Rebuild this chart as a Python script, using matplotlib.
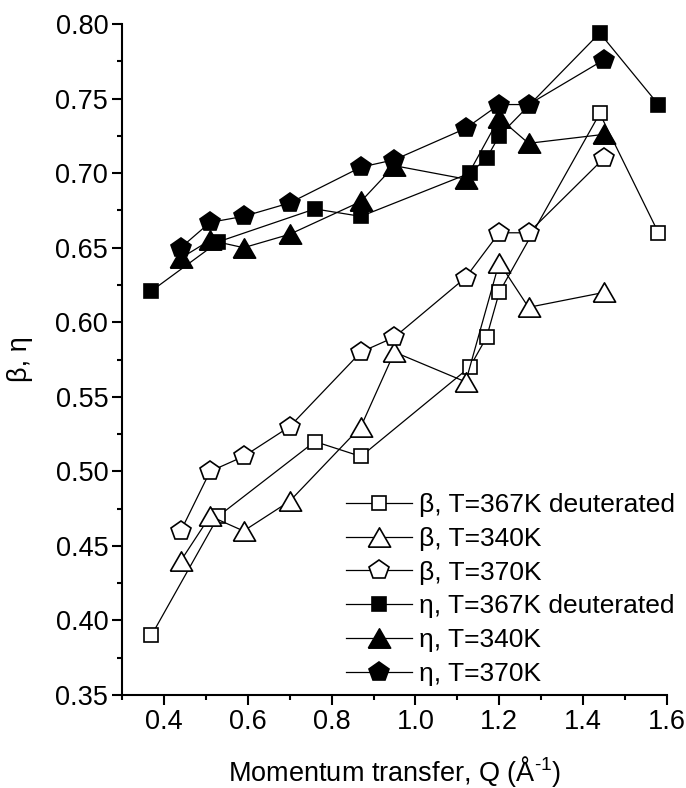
import numpy as np
import matplotlib
matplotlib.use("Agg")
import matplotlib.pyplot as plt
from matplotlib.ticker import MultipleLocator

plt.rcParams['font.family'] = ['Liberation Sans', 'DejaVu Sans']
plt.rcParams['mathtext.fontset'] = 'custom'
plt.rcParams['mathtext.rm'] = 'Liberation Sans'

# Q values
q_deut = [0.37, 0.53, 0.76, 0.87, 1.13, 1.17, 1.20, 1.44, 1.58]
q_h = [0.44, 0.51, 0.59, 0.70, 0.87, 0.95, 1.12, 1.20, 1.27, 1.45]

# beta (stretching exponent)
beta_367d = [0.39, 0.47, 0.52, 0.51, 0.57, 0.59, 0.62, 0.74, 0.66]
beta_340 = [0.44, 0.47, 0.46, 0.48, 0.53, 0.58, 0.56, 0.64, 0.61, 0.62]
beta_370 = [0.46, 0.50, 0.51, 0.53, 0.58, 0.59, 0.63, 0.66, 0.66, 0.71]

# eta
eta_367d = [0.621, 0.654, 0.676, 0.671, 0.700, 0.710, 0.725, 0.794, 0.746]
eta_340 = [0.643, 0.655, 0.650, 0.659, 0.681, 0.705, 0.696, 0.737, 0.720, 0.726]
eta_370 = [0.650, 0.667, 0.671, 0.680, 0.704, 0.709, 0.730, 0.746, 0.746, 0.776]

labels = ['β, T=367K deuterated', 'β, T=340K', 'β, T=370K',
          'η, T=367K deuterated', 'η, T=340K', 'η, T=370K']

# equilateral triangle marker
tri = [(-1, -0.866), (1, -0.866), (0, 0.866), (-1, -0.866)]

fig = plt.figure(figsize=(6.86, 7.88), dpi=100)
ax = fig.add_axes([0.178, 0.118, 0.794, 0.8515])

series = [
    (q_deut, beta_367d, 's', 'white', 10.5),
    (q_h, beta_340, tri, 'white', 16),
    (q_h, beta_370, 'p', 'white', 14.5),
    (q_deut, eta_367d, 's', 'black', 10.5),
    (q_h, eta_340, tri, 'black', 16),
    (q_h, eta_370, 'p', 'black', 14.5),
]
for (x, y, m, fc, ms), lab in zip(series, labels):
    ax.plot(x, y, color='black', lw=0.9, marker=m, markersize=ms,
            markerfacecolor=fc, markeredgecolor='black', markeredgewidth=1.2,
            label=lab)

ax.set_xlim(0.3, 1.6)
ax.set_ylim(0.35, 0.80)
ax.xaxis.set_major_locator(MultipleLocator(0.2))
ax.xaxis.set_minor_locator(MultipleLocator(0.1))
ax.yaxis.set_major_locator(MultipleLocator(0.05))
ax.yaxis.set_minor_locator(MultipleLocator(0.025))
ax.xaxis.set_major_formatter(plt.FuncFormatter(lambda v, p: '%.1f' % v))
ax.yaxis.set_major_formatter(plt.FuncFormatter(lambda v, p: '%.2f' % v))

for s in ['top', 'right']:
    ax.spines[s].set_visible(False)
for s in ['left', 'bottom']:
    ax.spines[s].set_linewidth(1.5)
ax.tick_params(which='major', direction='out', length=7, width=1.5, labelsize=19.5, pad=3)
ax.tick_params(which='minor', direction='out', length=3.8, width=1.5)

ax.set_xlabel('Momentum transfer, Q (Å$^{\\mathregular{\u2010}1}$)', fontsize=19.5, labelpad=14)
ax.set_ylabel('β, η', fontsize=19.5, labelpad=16)

ax.legend(loc='lower right', bbox_to_anchor=(1.045, -0.01), frameon=False, fontsize=19,
          handlelength=2.5, handletextpad=0.3, labelspacing=0.37, borderaxespad=0.2)

fig.savefig('out.png', dpi=100)
